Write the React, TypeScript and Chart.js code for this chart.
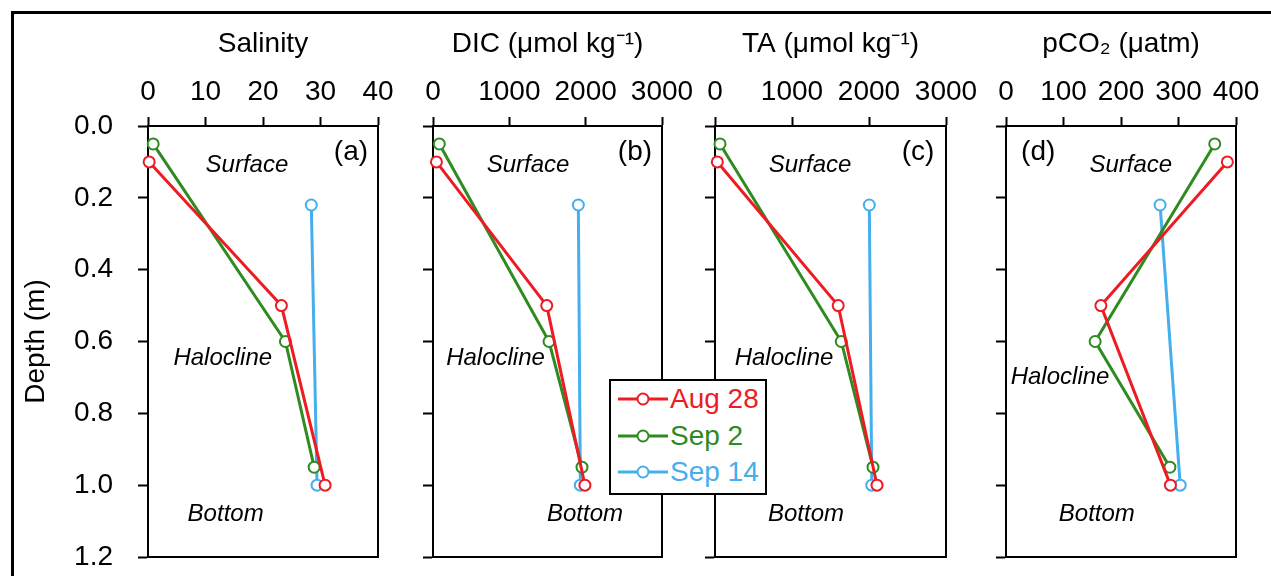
import React, { useEffect, useRef } from "react";
import { Chart, registerables } from "chart.js";

Chart.register(...registerables);

const FONT = "'Liberation Sans', Arial, Helvetica, sans-serif";

// ---------- data ----------
const seriesNames = ["Aug 28", "Sep 2", "Sep 14"];
const seriesColors = ["#ED1C24", "#2E8B1F", "#45AEEC"];

const depthAug28 = [0.1, 0.5, 1.0];
const depthSep2 = [0.05, 0.6, 0.95];
const depthSep14 = [0.22, 1.0];

const salinityAug28 = [0.2, 23.2, 30.8];
const salinitySep2 = [0.9, 23.9, 28.9];
const salinitySep14 = [28.4, 29.4];

const dicAug28 = [45, 1490, 1990];
const dicSep2 = [83, 1520, 1952];
const dicSep14 = [1904, 1930];

const taAug28 = [30, 1600, 2104];
const taSep2 = [65, 1640, 2052];
const taSep14 = [2004, 2036];

const pco2Aug28 = [385, 165, 286];
const pco2Sep2 = [363, 155, 285];
const pco2Sep14 = [268, 303];

const depthTicks = [0, 0.2, 0.4, 0.6, 0.8, 1.0, 1.2];
const salinityTicks = [0, 10, 20, 30, 40];
const dicTicks = [0, 1000, 2000, 3000];
const taTicks = [0, 1000, 2000, 3000];
const pco2Ticks = [0, 100, 200, 300, 400];

const panelTitles = ["Salinity", "DIC (\u03bcmol kg\u207b\u00b9)", "TA (\u03bcmol kg\u207b\u00b9)", "pCO\u2082 (\u03bcatm)"];
const panelLetters = ["(a)", "(b)", "(c)", "(d)"];
const zoneNames = ["Surface", "Halocline", "Bottom"];

// annotation anchors in data units: x value per zone, depth per zone
const salinityNoteX = [17.2, 13.0, 13.5];
const dicNoteX = [1245, 819, 1991];
const taNoteX = [1234, 896, 1182];
const pco2NoteX = [217, 94, 158];
const noteDepthABC = [0.109, 0.648, 1.082];
const noteDepthD = [0.109, 0.699, 1.082];
const letterX = [35.3, 2646, 2636, 56];
const letterDepth = 0.072;

// ---------- layout ----------
const CANVAS_H = 600;
const AXIS_FONT = 28;

type PanelCfg = {
  left: number;
  width: number;
  yWidth: number;
  padRight: number;
  showY: boolean;
  title: string;
  letter: string;
  xTicks: number[];
  xs: number[][];
  noteX: number[];
  noteDepth: number[];
  letterX: number;
};

const depths = [depthAug28, depthSep2, depthSep14];

const panels: PanelCfg[] = [
  { left: 14, width: 409, yWidth: 134, padRight: 45, showY: true, title: panelTitles[0], letter: panelLetters[0], xTicks: salinityTicks, xs: [salinityAug28, salinitySep2, salinitySep14], noteX: salinityNoteX, noteDepth: noteDepthABC, letterX: letterX[0] },
  { left: 405, width: 302, yWidth: 28, padRight: 45, showY: false, title: panelTitles[1], letter: panelLetters[1], xTicks: dicTicks, xs: [dicAug28, dicSep2, dicSep14], noteX: dicNoteX, noteDepth: noteDepthABC, letterX: letterX[1] },
  { left: 687, width: 304, yWidth: 28, padRight: 45, showY: false, title: panelTitles[2], letter: panelLetters[2], xTicks: taTicks, xs: [taAug28, taSep2, taSep14], noteX: taNoteX, noteDepth: noteDepthABC, letterX: letterX[2] },
  { left: 976, width: 295, yWidth: 30, padRight: 35, showY: false, title: panelTitles[3], letter: panelLetters[3], xTicks: pco2Ticks, xs: [pco2Aug28, pco2Sep2, pco2Sep14], noteX: pco2NoteX, noteDepth: noteDepthD, letterX: letterX[3] },
];

const framePlugin = {
  id: "frame",
  beforeDatasetsDraw(chart: any) {
    const { ctx, chartArea } = chart;
    const { left, right, top, bottom } = chartArea;
    ctx.save();
    ctx.strokeStyle = "#000";
    ctx.lineWidth = 2;
    ctx.beginPath();
    ctx.moveTo(right, top);
    ctx.lineTo(right, bottom);
    ctx.lineTo(left, bottom);
    ctx.stroke();
    ctx.restore();
  },
};

function makeNotesPlugin(cfg: PanelCfg) {
  return {
    id: "notes",
    afterDatasetsDraw(chart: any) {
      const { ctx, scales } = chart;
      ctx.save();
      ctx.fillStyle = "#000";
      ctx.textAlign = "center";
      ctx.textBaseline = "middle";
      ctx.font = `italic 24px ${FONT}`;
      zoneNames.forEach((name, i) => {
        ctx.fillText(name, scales.x.getPixelForValue(cfg.noteX[i]), scales.y.getPixelForValue(cfg.noteDepth[i]));
      });
      ctx.font = `${AXIS_FONT}px ${FONT}`;
      ctx.fillText(cfg.letter, scales.x.getPixelForValue(cfg.letterX), scales.y.getPixelForValue(letterDepth));
      ctx.restore();
    },
  };
}

function Panel({ cfg }: { cfg: PanelCfg }) {
  const ref = useRef<HTMLCanvasElement>(null);
  useEffect(() => {
    const canvas = ref.current!;
    const xt = cfg.xTicks;
    const chart = new Chart(canvas, {
      type: "scatter",
      data: {
        datasets: cfg.xs.map((xs, i) => ({
          label: seriesNames[i],
          data: xs.map((v, j) => ({ x: v, y: depths[i][j] })),
          showLine: true,
          borderColor: seriesColors[i],
          backgroundColor: "#fff",
          borderWidth: 3,
          pointRadius: 5.5,
          pointHoverRadius: 5.5,
          pointBorderWidth: 2,
          pointBackgroundColor: "#fff",
          pointBorderColor: seriesColors[i],
          clip: false,
        })),
      },
      options: {
        animation: false,
        responsive: false,
        devicePixelRatio: 1,
        events: [],
        layout: { padding: { left: 0, top: 0, right: cfg.padRight, bottom: CANVAS_H - 557 } },
        plugins: { legend: { display: false }, tooltip: { enabled: false } },
        scales: {
          x: {
            type: "linear",
            position: "top",
            min: xt[0],
            max: xt[xt.length - 1],
            afterBuildTicks: (s: any) => {
              s.ticks = xt.map((v) => ({ value: v }));
            },
            afterFit: (s: any) => {
              s.height = 126;
            },
            border: { display: true, color: "#000", width: 2 },
            grid: { drawOnChartArea: false, drawTicks: true, tickLength: 9, tickWidth: 2, tickColor: "#000", color: "#000" },
            ticks: {
              color: "#000",
              font: { size: AXIS_FONT, family: FONT },
              padding: 8,
              maxRotation: 0,
              minRotation: 0,
              autoSkip: false,
              callback: (v: any) => String(v),
            },
            title: {
              display: true,
              text: cfg.title,
              color: "#000",
              font: { size: AXIS_FONT, family: FONT },
              padding: { top: 27, bottom: 0 },
            },
          },
          y: {
            type: "linear",
            position: "left",
            reverse: true,
            min: 0,
            max: 1.2,
            afterBuildTicks: (s: any) => {
              s.ticks = depthTicks.map((v) => ({ value: v }));
            },
            afterFit: (s: any) => {
              s.width = cfg.yWidth;
            },
            border: { display: true, color: "#000", width: 2 },
            grid: { drawOnChartArea: false, drawTicks: true, tickLength: 10, tickWidth: 2, tickColor: "#000", color: "#000" },
            ticks: {
              display: cfg.showY,
              color: "#000",
              font: { size: AXIS_FONT, family: FONT },
              padding: 25,
              autoSkip: false,
              callback: (v: any) => Number(v).toFixed(1),
            },
            title: {
              display: cfg.showY,
              text: "Depth (m)",
              color: "#000",
              font: { size: AXIS_FONT, family: FONT },
              padding: { top: 5, bottom: 0 },
            },
          },
        },
      } as any,
      plugins: [framePlugin, makeNotesPlugin(cfg)],
    });
    return () => chart.destroy();
  }, [cfg]);
  return (
    <canvas
      ref={ref}
      width={cfg.width}
      height={CANVAS_H}
      style={{ position: "absolute", left: cfg.left, top: 0, width: cfg.width, height: CANVAS_H }}
    />
  );
}

function LegendBox() {
  return (
    <div
      style={{
        position: "absolute",
        left: 609,
        top: 379,
        width: 158,
        height: 116,
        boxSizing: "border-box",
        border: "2px solid #000",
        background: "#fff",
        zIndex: 5,
        fontFamily: FONT,
      }}
    >
      {seriesNames.map((name, i) => (
        <div key={name} style={{ height: 36.5, display: "flex", alignItems: "center", paddingLeft: 7 }}>
          <svg width={50} height={16} style={{ display: "block", flex: "none" }}>
            <line x1={0} y1={8} x2={50} y2={8} stroke={seriesColors[i]} strokeWidth={3} />
            <circle cx={25} cy={8} r={5.5} fill="#fff" stroke={seriesColors[i]} strokeWidth={2} />
          </svg>
          <span style={{ color: seriesColors[i], fontSize: 28, lineHeight: "30px", marginLeft: 2, whiteSpace: "nowrap" }}>{name}</span>
        </div>
      ))}
    </div>
  );
}

export default function App() {
  return (
    <div style={{ position: "absolute", left: 0, top: 0, width: 1271, height: 576, overflow: "hidden", background: "#fff" }}>
      <div
        style={{
          position: "absolute",
          left: 11,
          top: 11,
          width: 1300,
          height: 600,
          borderTop: "3px solid #000",
          borderLeft: "3px solid #000",
        }}
      />
      {panels.map((p, i) => (
        <Panel key={i} cfg={p} />
      ))}
      <LegendBox />
    </div>
  );
}
